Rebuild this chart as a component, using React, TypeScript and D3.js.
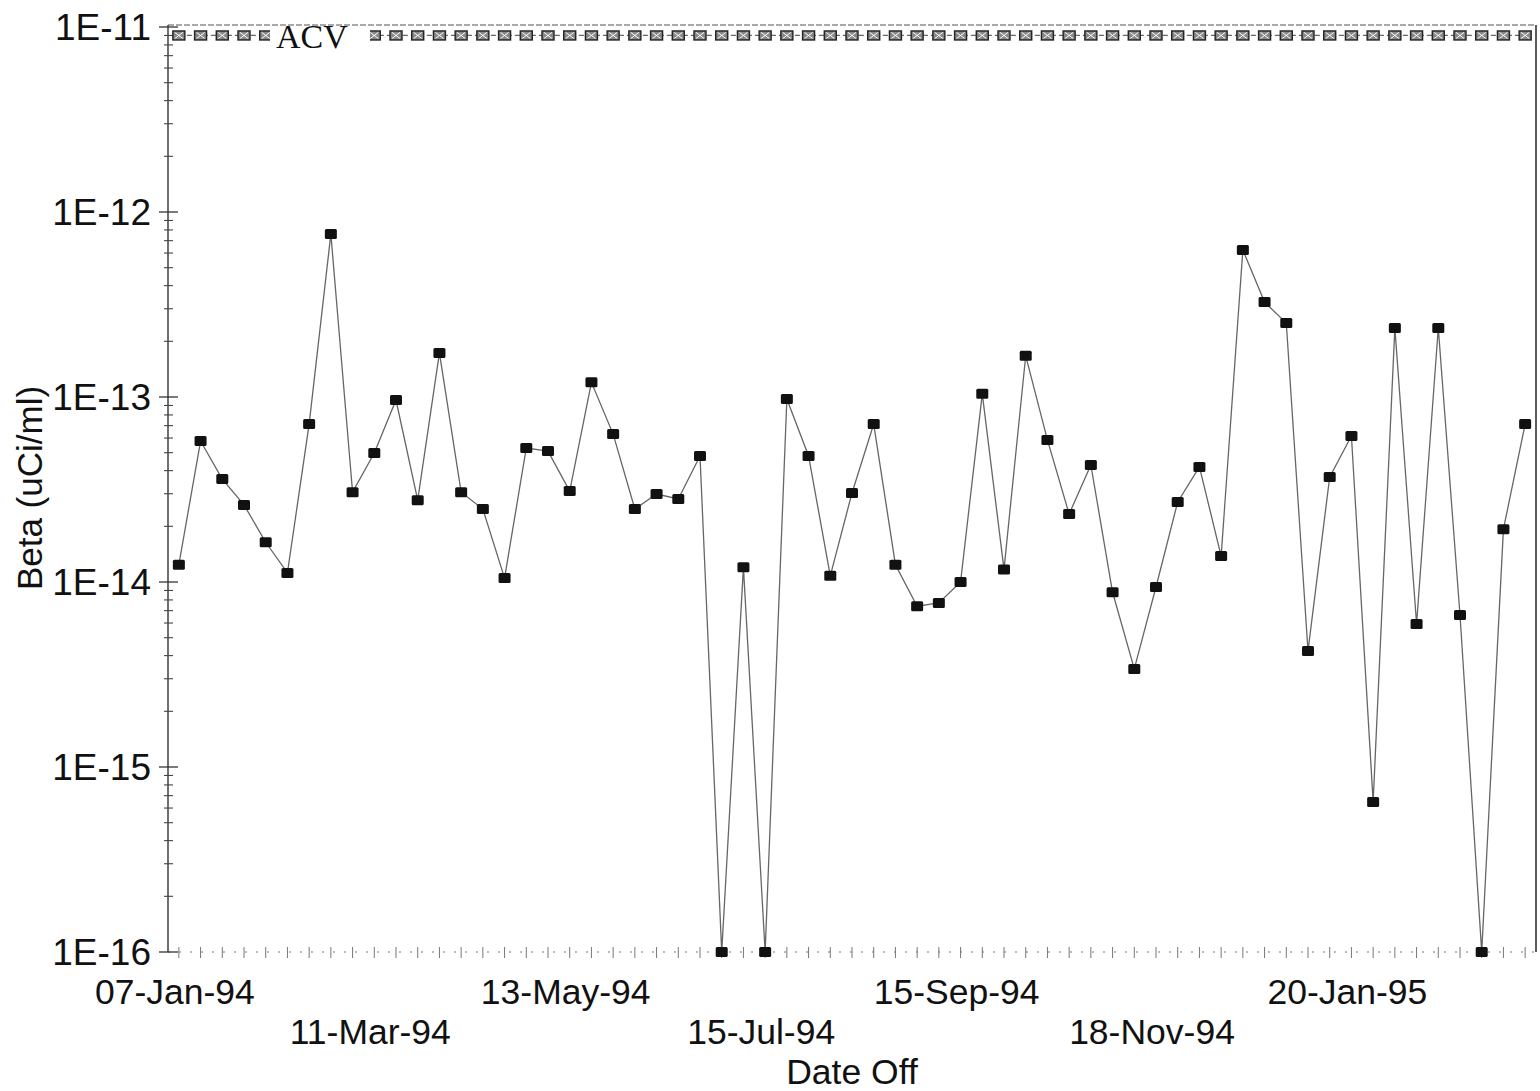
import React from "react";
import * as d3 from "d3";

const betaValues = [
  1.24e-14, 5.78e-14, 3.6e-14, 2.61e-14, 1.64e-14, 1.12e-14, 7.14e-14, 7.6e-13, 3.06e-14,
  4.98e-14, 9.63e-14, 2.77e-14, 1.73e-13, 3.06e-14, 2.48e-14, 1.05e-14, 5.3e-14, 5.1e-14,
  3.1e-14, 1.2e-13, 6.3e-14, 2.48e-14, 2.99e-14, 2.81e-14, 4.8e-14, 1e-16, 1.2e-14, 1e-16,
  9.75e-14, 4.8e-14, 1.08e-14, 3.03e-14, 7.14e-14, 1.24e-14, 7.4e-15, 7.7e-15, 1.0e-14,
  1.04e-13, 1.17e-14, 1.67e-13, 5.86e-14, 2.33e-14, 4.29e-14, 8.8e-15, 3.39e-15, 9.4e-15,
  2.71e-14, 4.19e-14, 1.38e-14, 6.23e-13, 3.26e-13, 2.51e-13, 4.24e-15, 3.7e-14, 6.15e-14,
  6.47e-16, 2.36e-13, 5.93e-15, 2.36e-13, 6.63e-15, 1e-16, 1.93e-14, 7.14e-14,
];

const acvValue = 9e-12;
const acvHiddenIdx = [5, 6, 7, 8];

const tickLabels = ["07-Jan-94", "11-Mar-94", "13-May-94", "15-Jul-94", "15-Sep-94", "18-Nov-94", "20-Jan-95"];
const tickIndex = [0, 9, 18, 27, 36, 45, 54];

const yTickValues = [1e-11, 1e-12, 1e-13, 1e-14, 1e-15, 1e-16];
const yTickLabels = ["1E-11", "1E-12", "1E-13", "1E-14", "1E-15", "1E-16"];

const W = 1540;
const H = 1091;
const L = 168;
const R = 1536;
const T = 27;
const B = 952;

export default function App() {
  const idx = d3.range(betaValues.length);
  const x = d3.scalePoint<number>().domain(idx).range([L, R]).padding(0.5);
  const y = d3.scaleLog().domain([1e-16, 1e-11]).range([B, T]).clamp(true);

  const line = d3
    .line<number>()
    .x((d, i) => x(i) as number)
    .y((d) => y(d));

  const minor: number[] = [];
  for (let e = -16; e < -11; e++) {
    for (let m = 2; m <= 9; m++) minor.push(m * Math.pow(10, e));
  }

  const acvY = y(acvValue);
  const font = "'Liberation Sans', Arial, sans-serif";

  return (
    <svg width={W} height={H} style={{ position: "absolute", left: 0, top: 0, background: "#fff" }}>
      <rect x={0} y={0} width={W} height={H} fill="#fff" />
      {/* frame */}
      <line x1={L} x2={R} y1={25} y2={25} stroke="#555" strokeWidth={1.2} strokeDasharray="6,2" />
      <line x1={R} x2={R} y1={25} y2={B} stroke="#333" strokeWidth={1.6} />
      <line x1={L} x2={L} y1={25} y2={B} stroke="#333" strokeWidth={1.4} />
      <line x1={L} x2={R} y1={B} y2={B} stroke="#777" strokeWidth={1.2} strokeDasharray="2,9" />

      {/* y ticks */}
      {yTickValues.map((v, i) => (
        <g key={"yt" + i}>
          <line x1={L - 9} x2={L + 10} y1={y(v)} y2={y(v)} stroke="#333" strokeWidth={1.3} />
          <text x={151} y={y(v)} dy="0.36em" textAnchor="end" fontFamily={font} fontSize={37} fill="#111">
            {yTickLabels[i]}
          </text>
        </g>
      ))}
      {minor.map((v, i) => (
        <line key={"ym" + i} x1={L - 4} x2={L + 5} y1={y(v)} y2={y(v)} stroke="#444" strokeWidth={1.1} />
      ))}

      {/* x ticks */}
      {idx.map((i) => (
        <line key={"xt" + i} x1={x(i) as number} x2={x(i) as number} y1={B - 5} y2={B + 6} stroke="#777" strokeWidth={1} />
      ))}
      {tickIndex.map((ti, k) => (
        <text
          key={"xl" + k}
          x={(x(ti) as number) - 4}
          y={k % 2 === 0 ? 1004 : 1044}
          textAnchor="middle"
          fontFamily={font}
          fontSize={35.5}
          fill="#111"
        >
          {tickLabels[k]}
        </text>
      ))}

      {/* axis titles */}
      <text x={852} y={1084} textAnchor="middle" fontFamily={font} fontSize={35.5} fill="#111">
        Date Off
      </text>
      <text
        transform={`translate(42,488) rotate(-90)`}
        textAnchor="middle"
        fontFamily={font}
        fontSize={35}
        fill="#111"
      >
        Beta (uCi/ml)
      </text>

      {/* ACV line */}
      <line x1={x(0) as number} x2={x(idx.length - 1) as number} y1={acvY} y2={acvY} stroke="#666" strokeWidth={1.3} strokeDasharray="5,3" />
      {idx.filter((i) => acvHiddenIdx.indexOf(i) < 0).map((i) => {
        const cx = x(i) as number;
        return (
          <g key={"acv" + i}>
            <rect x={cx - 6} y={acvY - 4.5} width={12} height={9} fill="#888" stroke="#222" strokeWidth={1.4} />
            <line x1={cx - 4} x2={cx + 4} y1={acvY - 3} y2={acvY + 3} stroke="#fff" strokeWidth={1} />
            <line x1={cx - 4} x2={cx + 4} y1={acvY + 3} y2={acvY - 3} stroke="#fff" strokeWidth={1} />
          </g>
        );
      })}
      <rect x={270} y={28} width={100} height={22} fill="#fff" />
      <text x={276} y={48} fontFamily="'Liberation Serif', 'Times New Roman', serif" fontSize={34} fill="#111">
        ACV
      </text>

      {/* data */}
      <path d={line(betaValues) || ""} fill="none" stroke="#666" strokeWidth={1.3} />
      {betaValues.map((v, i) => (
        <rect
          key={"p" + i}
          x={(x(i) as number) - 6}
          y={y(v) - 5}
          width={12}
          height={10}
          rx={1.5}
          fill="#111"
        />
      ))}
    </svg>
  );
}
